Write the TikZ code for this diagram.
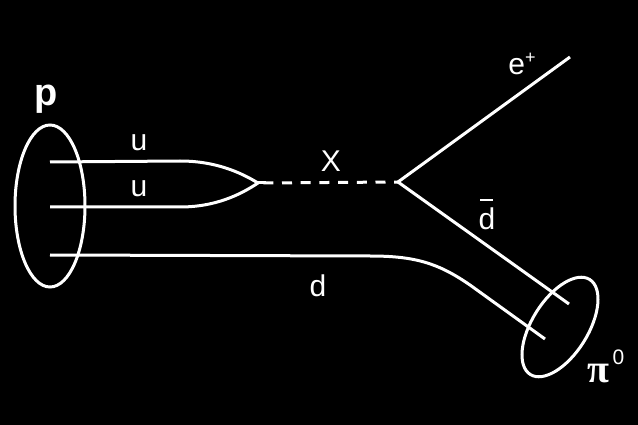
\documentclass[tikz,border=0pt]{standalone}
\usepackage{fontspec}
\setmainfont{Liberation Sans}
\newfontfamily\pifont{Liberation Serif}
\usetikzlibrary{shapes.geometric}
\begin{document}
\begin{tikzpicture}[x=1pt,y=-1pt,
  quark/.style={draw=white, line width=3pt},
  xboson/.style={quark, dash pattern=on 10pt off 8.7pt, dash phase=13.4pt},
  lbl/.style={text=white, font=\fontsize{30}{32}\selectfont, inner sep=0pt, anchor=base},
  hadron/.style={ellipse, draw=white, line width=3pt, inner sep=0pt}]
\fill[black] (0,0) rectangle (638,425);
\useasboundingbox (0,0) rectangle (638,425);
% hadrons
\node[hadron, minimum width=70pt, minimum height=162pt] (P) at (50,206) {};
\node[hadron, minimum width=112pt, minimum height=56pt, rotate=58] (PI) at (560,327) {};
% coordinates
\coordinate (u1a) at (50,162);
\coordinate (u1b) at (180,161);
\coordinate (u2a) at (50,207);
\coordinate (u2b) at (180,207);
\coordinate (v1) at (258,183);
\coordinate (v1s) at (266,183);
\coordinate (v2) at (398,182);
\coordinate (ep) at (570,57);
\coordinate (dbe) at (569,304);
\coordinate (da) at (50,255);
\coordinate (db) at (370,256);
\coordinate (dc) at (470,285);
\coordinate (de) at (545,339);
% lines
\draw[quark] (u1a) -- (u1b) .. controls +(35,0) and +(-18,-11) .. (v1);
\draw[quark] (u2a) -- (u2b) .. controls +(35,0) and +(-18,12) .. (v1);
\draw[quark] (v1) -- (v1s);
\draw[xboson] (v1) -- (v2);
\draw[quark] (v2) -- (ep);
\draw[quark] (v2) -- (dbe);
\draw[quark] (da) -- (db) .. controls +(45,0) and +(-32,-22) .. (dc) -- (de);
% labels
\node[lbl, font=\fontsize{38}{40}\selectfont\bfseries] (lp) at (46,106) {p};
\node[lbl] (lu1) at (139,151) {u};
\node[lbl] (lu2) at (139,197) {u};
\node[lbl] (lx) at (331,172) {X};
\node[lbl] (le) at (522,75) {e\raisebox{11pt}{\fontsize{18}{18}\selectfont +}};
\node[lbl] (ldb) at (487,230) {\makebox[0pt][l]{\hspace{1.5pt}\raisebox{29pt}{\rule{13pt}{2pt}}}d};
\node[lbl] (ld) at (318,296) {d};
\node[lbl] (lpi) at (606,382) {{\pifont\bfseries\fontsize{40}{42}\selectfont π}\hspace{3pt}\raisebox{18pt}{\fontsize{21}{21}\selectfont 0}};
\end{tikzpicture}
\end{document}
